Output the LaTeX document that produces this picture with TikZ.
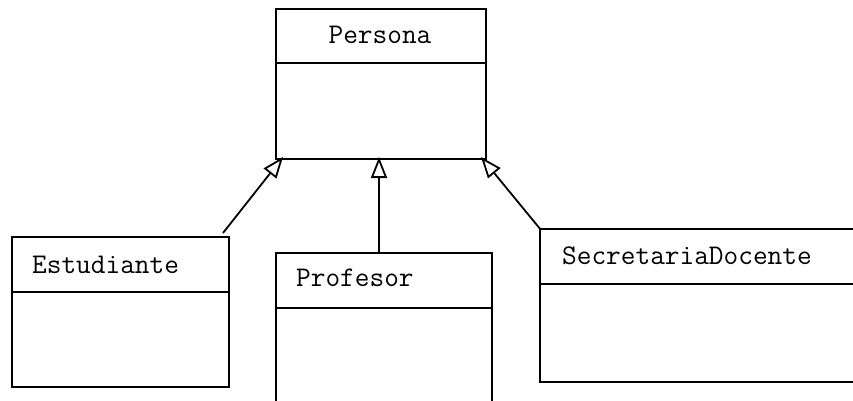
\documentclass[tikz,border=0pt]{standalone}
\usepackage{fontspec}
\usetikzlibrary{arrows.meta}
\begin{document}
\begin{tikzpicture}[x=1pt,y=-1pt,
  box/.style={draw, line width=1.8pt, anchor=north west, inner sep=0pt},
  sep/.style={line width=1.8pt},
  lbl/.style={anchor=base west, inner sep=0pt, font=\ttfamily\fontsize{28.5}{32}\selectfont},
  inh/.style={line width=1.8pt, -{Triangle[open, length=21pt, width=16pt, fill=white]}}]
\useasboundingbox (0,0) rectangle (853,400);
\clip (0,0) rectangle (853,400);
% Persona
\node[box, minimum width=210pt, minimum height=150pt] (persona) at (275,8) {};
\draw[sep] (275,63) -- (485,63);
\node[lbl, anchor=base] (personaT) at (380,43) {Persona};
% Estudiante
\node[box, minimum width=217pt, minimum height=150pt] (estud) at (11,236) {};
\draw[sep] (11,292) -- (228,292);
\node[lbl] (estudT) at (32,273) {Estudiante};
% Profesor
\node[box, minimum width=216pt, minimum height=180pt] (prof) at (275,252) {};
\draw[sep] (275,308) -- (491,308);
\node[lbl] (profT) at (296,286) {Profesor};
% SecretariaDocente
\node[box, minimum width=340pt, minimum height=153pt] (secr) at (539,228) {};
\draw[sep] (539,284) -- (879,284);
\node[lbl] (secrT) at (562,264) {SecretariaDocente};
% connectors
\coordinate (eS) at (223,233);
\coordinate (pT1) at (283,157);
\coordinate (pS) at (379,252);
\coordinate (pT2) at (379,157);
\coordinate (sS) at (541,230);
\coordinate (pT3) at (481,157);
\draw[inh] (eS) -- (pT1);
\draw[inh] (pS) -- (pT2);
\draw[inh] (sS) -- (pT3);
\end{tikzpicture}
\end{document}
